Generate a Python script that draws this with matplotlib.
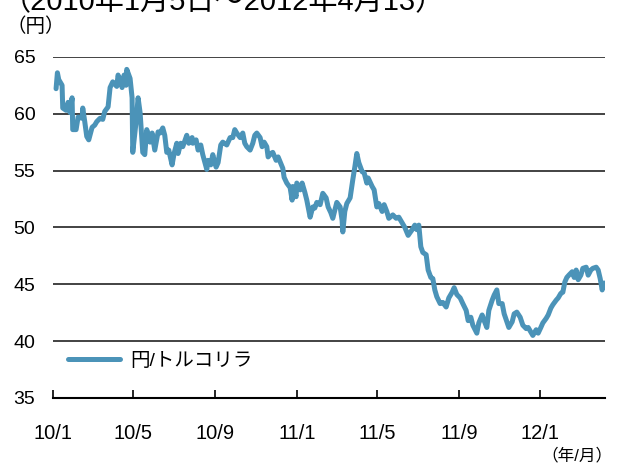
import matplotlib
matplotlib.use("Agg")
import matplotlib.pyplot as plt
import pandas as pd

plt.rcParams["font.family"] = ["Liberation Sans", "Noto Sans CJK JP"]

title = "（2010年1月5日～2012年4月13）"
series_name = "円/トルコリラ"

dates = [
    "2010-01-05", "2010-01-07", "2010-01-09", "2010-01-14", "2010-01-15", "2010-01-20",
    "2010-01-23", "2010-01-26", "2010-01-29", "2010-01-30", "2010-02-04", "2010-02-07",
    "2010-02-13", "2010-02-14", "2010-02-17", "2010-02-20", "2010-02-23", "2010-02-28",
    "2010-03-04", "2010-03-07", "2010-03-12", "2010-03-16", "2010-03-19", "2010-03-24",
    "2010-03-27", "2010-03-31", "2010-04-06", "2010-04-08", "2010-04-14", "2010-04-17",
    "2010-04-20", "2010-04-21", "2010-04-26", "2010-04-29", "2010-04-30", "2010-05-05",
    "2010-05-08", "2010-05-11", "2010-05-15", "2010-05-18", "2010-05-21", "2010-05-26",
    "2010-05-29", "2010-06-02", "2010-06-07",
    "2010-06-10", "2010-06-14", "2010-06-17", "2010-06-20", "2010-06-23", "2010-06-28",
    "2010-07-01", "2010-07-05", "2010-07-07", "2010-07-11", "2010-07-14", "2010-07-20",
    "2010-07-23", "2010-07-28", "2010-07-29", "2010-08-03", "2010-08-06", "2010-08-10",
    "2010-08-13", "2010-08-19", "2010-08-21", "2010-08-25", "2010-08-28", "2010-09-02",
    "2010-09-05", "2010-09-09", "2010-09-12", "2010-09-18", "2010-09-23", "2010-09-27",
    "2010-09-30", "2010-10-03", "2010-10-08", "2010-10-12", "2010-10-15", "2010-10-18",
    "2010-10-23", "2010-10-27", "2010-10-30", "2010-11-02", "2010-11-07", "2010-11-10",
    "2010-11-13", "2010-11-17", "2010-11-19", "2010-11-23", "2010-11-26", "2010-12-01",
    "2010-12-04",
    "2010-12-11", "2010-12-13", "2010-12-17", "2010-12-22", "2010-12-25", "2010-12-26",
    "2010-12-31", "2011-01-01", "2011-01-06", "2011-01-09", "2011-01-13", "2011-01-16",
    "2011-01-21", "2011-01-25", "2011-01-28", "2011-01-31", "2011-02-05", "2011-02-09",
    "2011-02-14", "2011-02-17", "2011-02-21", "2011-02-24", "2011-02-27", "2011-03-02",
    "2011-03-07", "2011-03-10", "2011-03-11", "2011-03-14", "2011-03-17", "2011-03-22",
    "2011-03-26", "2011-03-29", "2011-04-01", "2011-04-04", "2011-04-09", "2011-04-12",
    "2011-04-16", "2011-04-18", "2011-04-24", "2011-04-27", "2011-05-01", "2011-05-04",
    "2011-05-09", "2011-05-12", "2011-05-16", "2011-05-19",
    "2011-05-25", "2011-05-30", "2011-06-03", "2011-06-08", "2011-06-12", "2011-06-17",
    "2011-06-23", "2011-06-27", "2011-06-30", "2011-07-03", "2011-07-06", "2011-07-09",
    "2011-07-14", "2011-07-17", "2011-07-21", "2011-07-24", "2011-07-27", "2011-07-30",
    "2011-08-04", "2011-08-08", "2011-08-13", "2011-08-17", "2011-08-22", "2011-08-25",
    "2011-08-29", "2011-09-03", "2011-09-07", "2011-09-12", "2011-09-15", "2011-09-19",
    "2011-09-22", "2011-09-28", "2011-10-01", "2011-10-06", "2011-10-09", "2011-10-13",
    "2011-10-16", "2011-10-21", "2011-10-24", "2011-10-28", "2011-10-31",
    "2011-11-05", "2011-11-08", "2011-11-12", "2011-11-15", "2011-11-20", "2011-11-23",
    "2011-11-27", "2011-12-02", "2011-12-06", "2011-12-11", "2011-12-14", "2011-12-18",
    "2011-12-21", "2011-12-26", "2011-12-29", "2012-01-02", "2012-01-05", "2012-01-10",
    "2012-01-13", "2012-01-17", "2012-01-20", "2012-01-25", "2012-01-28", "2012-02-01",
    "2012-02-04", "2012-02-07", "2012-02-10", "2012-02-13", "2012-02-18", "2012-02-21",
    "2012-02-24", "2012-02-27", "2012-03-02", "2012-03-05", "2012-03-10", "2012-03-13",
    "2012-03-17", "2012-03-20", "2012-03-25", "2012-03-28", "2012-03-31", "2012-04-03",
    "2012-04-05", "2012-04-07",
]

rate = [
    62.2, 63.6, 63.0, 62.5, 60.5, 60.3,
    61.0, 60.1, 61.4, 58.6, 58.6, 59.7,
    59.6, 60.5, 59.3, 58.0, 57.7, 58.8,
    59.0, 59.3, 59.6, 59.5, 60.2, 60.6,
    62.3, 62.8, 62.4, 63.4, 62.3, 63.4,
    62.5, 63.9, 63.1, 61.4, 56.6, 59.3,
    61.4, 60.1, 56.6, 56.4, 58.6, 57.5,
    58.3, 56.8, 58.4,
    58.3, 58.75, 58.1, 56.6, 56.8, 55.5,
    56.5, 57.4, 56.5, 57.4, 57.1, 58.1,
    57.4, 57.9, 57.4, 57.7, 56.8, 57.25,
    56.4, 55.1, 55.9, 55.5, 56.4, 55.3,
    55.7, 57.25, 57.5, 57.25, 57.9, 57.9,
    58.6, 58.3, 57.9, 58.3, 57.4, 57.1,
    56.8, 57.4, 58.1, 58.3, 57.9, 57.1,
    57.5, 57.1, 56.2, 56.5, 56.6, 55.9,
    56.2,
    55.2, 54.4, 53.9, 53.5, 52.4, 53.6,
    52.7, 53.9, 53.3, 53.9, 53.1, 52.4,
    50.9, 51.8, 51.7, 52.2, 52.0, 53.0,
    52.6, 51.8, 51.3, 50.8, 51.5, 52.2,
    51.8, 50.6, 49.6, 51.4, 52.1, 52.6,
    54.2, 55.3, 56.5, 55.7, 54.9, 54.8,
    53.9, 54.35, 53.6, 53.3, 51.8, 52.1,
    51.4, 52.0, 51.4, 50.8,
    51.1, 50.8, 50.9, 50.4, 50.0, 49.3,
    49.8, 50.2, 49.8, 50.2, 48.3, 47.8,
    47.6, 46.25, 45.6, 45.5, 44.5, 43.9,
    43.3, 43.4, 43.0, 43.8, 44.3, 44.7,
    44.1, 43.8, 43.3, 42.7, 41.8, 42.1,
    41.4, 40.7, 41.6, 42.3, 41.8, 41.2,
    42.7, 43.6, 44.05, 44.5, 43.3,
    43.3, 42.4, 41.7, 41.2, 41.7, 42.4,
    42.55, 42.1, 41.4, 41.1, 41.2, 40.8,
    40.5, 41.0, 40.7, 41.2, 41.6, 42.0,
    42.3, 42.9, 43.2, 43.6, 43.8, 44.2,
    44.3, 45.2, 45.6, 45.8, 46.1, 45.6,
    46.25, 45.4, 45.8, 46.4, 46.5, 45.8,
    46.25, 46.4, 46.5, 46.25, 45.5, 44.5,
    45.1, 45.1,
]

tick_dates = ["2010-01-01", "2010-05-01", "2010-09-01", "2011-01-01",
              "2011-05-01", "2011-09-01", "2012-01-01"]
tick_labels = ["10/1", "10/5", "10/9", "11/1", "11/5", "11/9", "12/1"]
y_ticks = [35, 40, 45, 50, 55, 60, 65]


def main():
    x = pd.to_datetime(dates)

    fig = plt.figure(figsize=(6.21, 4.66), dpi=100)
    ax = fig.add_axes([0.086, 0.146, 0.888, 0.732])

    ax.plot(x, rate, color="#4b93b8", linewidth=3.6, label=series_name,
            solid_capstyle="round", solid_joinstyle="round", zorder=3)

    ax.set_ylim(35, 65)
    ax.set_yticks(y_ticks)
    ax.set_xlim(pd.Timestamp("2010-01-01"), x[-1])
    ax.set_xticks(pd.to_datetime(tick_dates))
    ax.set_xticklabels(tick_labels)

    ax.grid(axis="y", color="#222222", linewidth=1.2)
    ax.grid(axis="x", visible=False)
    for side in ["top", "right", "left"]:
        ax.spines[side].set_visible(False)
    ax.spines["bottom"].set_linewidth(1.5)
    ax.spines["bottom"].set_zorder(4)

    ax.tick_params(axis="x", direction="in", length=6, width=1.2,
                   pad=19, labelsize=14.5)
    ax.tick_params(axis="y", length=0, pad=13, labelsize=14)

    leg = ax.legend(loc="lower left", bbox_to_anchor=(0.012, 0.06),
                    borderaxespad=0, frameon=True, fancybox=False,
                    handlelength=2.7, handletextpad=0.5, fontsize=14)
    leg.get_frame().set_facecolor("white")
    leg.get_frame().set_edgecolor("none")
    leg.get_frame().set_alpha(1)
    leg.set_zorder(5)

    fig.text(0.003, 1 - 10 / 466, title, fontsize=21, va="baseline", ha="left")
    fig.text(0.01, 1 - 27 / 466, "（円）", fontsize=14, va="center", ha="left")
    fig.text(0.987, 1 - 455 / 466, "（年/月）", fontsize=12, va="center", ha="right")

    fig.savefig("out.png", dpi=100)


if __name__ == "__main__":
    main()
